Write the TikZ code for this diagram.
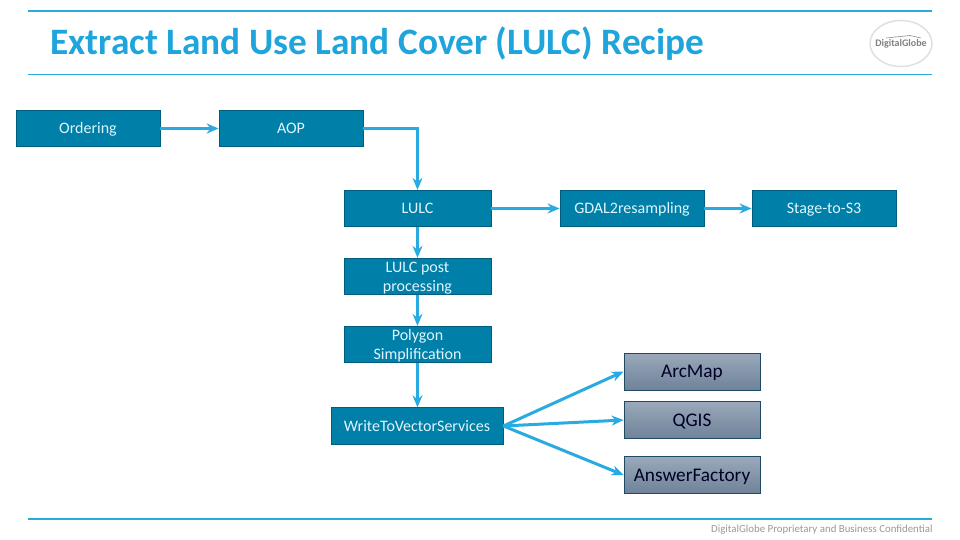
\documentclass[tikz,border=0pt]{standalone}
\usepackage{fontspec}
\setmainfont{Carlito}
\usetikzlibrary{arrows.meta,shapes.geometric}
\definecolor{rulecol}{HTML}{29ABE2}
\definecolor{titlecol}{HTML}{1FA5DC}
\definecolor{boxcol}{HTML}{007FA9}
\definecolor{boxedge}{HTML}{005D7D}
\definecolor{tooledge}{HTML}{1F4A66}
\definecolor{tooltop}{HTML}{9AA9BA}
\definecolor{toolbot}{HTML}{6F8299}
\begin{document}
\begin{tikzpicture}[x=1pt, y=-1pt, thick,
	main/.style = {draw=boxedge, fill=boxcol, text=white!88!cyan, line width=0.8pt, inner sep=0pt, minimum height=36.5pt, minimum width=144pt, align=center, font=\fontsize{16}{19}\selectfont, text height=13pt, text depth=3pt},
	wide/.style = {main, minimum width=147pt},
	twoline/.style = {wide, text height=32pt},
	tool/.style = {draw=tooledge, top color=tooltop, bottom color=toolbot, text=black!85!blue, line width=0.8pt, inner sep=0pt, minimum height=37pt, minimum width=136pt, align=center, font=\fontsize{19.3}{22}\selectfont, text height=15pt, text depth=3pt},
	link/.style = {draw=rulecol, line width=3pt, -{Stealth[length=12pt,width=10pt]}},
	rule/.style = {draw=rulecol}]

	\useasboundingbox (0,0) rectangle (960,540);
	\fill[white] (0,0) rectangle (960,540);

	% header and footer
	\draw[rule, line width=2pt] (28,11) -- (932,11);
	\draw[rule, line width=1.3pt] (28,74.5) -- (932,74.5);
	\draw[rule, line width=2pt] (28,519) -- (932,519);
	\node[anchor=west, inner sep=0pt, text=titlecol, font=\fontsize{37.3}{40}\bfseries\selectfont] (title) at (50,44) {Extract Land Use Land Cover (LULC) Recipe};
	\node[anchor=east, inner sep=0pt, text=black!40, font=\fontsize{10.85}{12}\selectfont] (footer) at (933,530) {DigitalGlobe Proprietary and Business Confidential};

	% logo
	\node[draw=black!12, line width=1.5pt, ellipse, minimum width=62pt, minimum height=46pt, inner sep=0pt] (logo) at (901,43.5) {};
	\node[inner sep=0pt, text=black!50, font=\fontsize{10}{10}\bfseries\selectfont] (logotext) at (901,44) {DigitalGlobe};
	\draw[black!45, line width=0.6pt] (886,38) -- (910,35.5) -- (921,38);

	% recipe
	\node[main] (Ordering) at (88,128.5) {Ordering};
	\node[main] (AOP) at (291,128.5) {AOP};
	\node[wide] (LULC) at (417.5,208.5) {LULC};
	\node[main] (Resampling) at (632,208.5) {GDAL2resampling};
	\node[main] (Stage) at (824,208.5) {Stage-to-S3};
	\node[twoline] (Post) at (417.5,276.5) {LULC post\\processing};
	\node[twoline] (Polygon) at (417.5,344.5) {Polygon\\Simplification};
	\node[main, minimum width=172pt] (Write) at (417,426) {WriteToVectorServices};

	\node[tool] (ArcMap) at (692,371.5) {ArcMap};
	\node[tool] (QGIS) at (692,420) {QGIS};
	\node[tool] (Answer) at (692,475) {AnswerFactory};

	\draw[link] (Ordering) to (AOP);
	\draw[link] (AOP.east) -| (LULC.north);
	\draw[link] (LULC) to (Resampling);
	\draw[link] (Resampling) to (Stage);
	\draw[link] (LULC) to (Post);
	\draw[link] (Post) to (Polygon);
	\draw[link] (Polygon.south) to (Polygon.south |- Write.north);
	\draw[link] (Write.east) to (ArcMap.west);
	\draw[link] (Write.east) to (QGIS.west);
	\draw[link] (Write.east) to (Answer.west);
\end{tikzpicture}
\end{document}
